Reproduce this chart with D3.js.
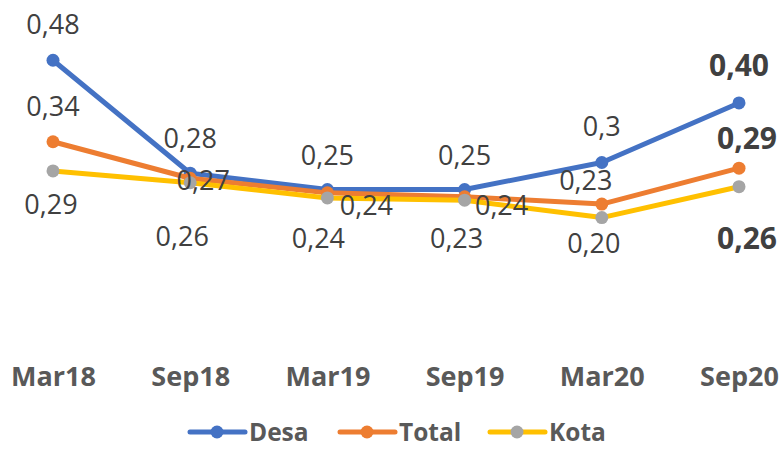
<!DOCTYPE html>
<html><head><meta charset="utf-8">
<script src="https://cdn.jsdelivr.net/npm/d3@7"></script>
<style>html,body{margin:0;padding:0;background:#fff;}svg{display:block;}</style>
</head><body>
<svg id="chart" width="784" height="449"></svg>
<script>
// ---- data ----
const categories = ["Mar18", "Sep18", "Mar19", "Sep19", "Mar20", "Sep20"];
const seriesNames = ["Desa", "Total", "Kota"];
const desaValues  = [0.480, 0.279, 0.250, 0.250, 0.298, 0.404];
const totalValues = [0.335, 0.270, 0.244, 0.237, 0.224, 0.288];
const kotaValues  = [0.283, 0.262, 0.235, 0.231, 0.200, 0.255];
const desaLabels  = ["0,48", "0,28", "0,25", "0,25", "0,3", "0,40"];
const totalLabels = ["0,34", "0,27", "0,24", "0,24", "0,23", "0,29"];
const kotaLabels  = ["0,29", "0,26", "0,24", "0,23", "0,20", "0,26"];

// ---- styling / layout (not data) ----
const lineColors   = {Desa: "#4472C4", Total: "#ED7D31", Kota: "#FFC000"};
const markerColors = {Desa: "#4472C4", Total: "#ED7D31", Kota: "#A5A5A5"};
const labelOffsets = {
  Desa:  [[0,-36],[0,-35],[0,-34],[0,-34],[0,-36],[0,-38]],
  Total: [[0,-35],[13,2],[39,12],[37,8],[-16,-24],[8,-30]],
  Kota:  [[-2,33],[-8,54],[-9,40],[-8,38],[-8,26],[8,52]]
};
const boldLast = true;

const series = [
  {name: "Desa", values: desaValues, labels: desaLabels},
  {name: "Total", values: totalValues, labels: totalLabels},
  {name: "Kota", values: kotaValues, labels: kotaLabels}
];

const svg = d3.select("#chart");
const font = "'Open Sans', 'Noto Sans', sans-serif";

const x = d3.scalePoint().domain(categories).range([53, 739]);
const y = d3.scaleLinear().domain([0, 0.5]).range([330, 49]);

// category axis (no line, no ticks)
const xAxis = svg.append("g").attr("transform", "translate(0,376)")
  .call(d3.axisBottom(x).tickSize(0).tickPadding(0));
xAxis.select(".domain").remove();
xAxis.selectAll("text")
  .attr("dy", "0.36em").attr("y", 0)
  .attr("font-family", font).attr("font-size", 27).attr("font-weight", "bold")
  .attr("fill", "#595959");

const line = d3.line().x((d, i) => x(categories[i])).y(d => y(d));

series.forEach(s => {
  const g = svg.append("g");
  g.append("path").datum(s.values)
    .attr("d", line).attr("fill", "none")
    .attr("stroke", lineColors[s.name]).attr("stroke-width", 5)
    .attr("stroke-linejoin", "round").attr("stroke-linecap", "round");
  g.selectAll("circle").data(s.values).join("circle")
    .attr("cx", (d, i) => x(categories[i])).attr("cy", d => y(d))
    .attr("r", 6.5).attr("fill", markerColors[s.name]);
});

// data labels
series.forEach(s => {
  svg.append("g").selectAll("text").data(s.values).join("text")
    .attr("x", (d, i) => x(categories[i]) + labelOffsets[s.name][i][0])
    .attr("y", (d, i) => y(d) + labelOffsets[s.name][i][1])
    .attr("dy", "0.36em")
    .attr("text-anchor", "middle")
    .attr("font-family", font)
    .attr("font-size", (d, i) => (boldLast && i === categories.length - 1) ? 30 : 27)
    .attr("font-weight", (d, i) => (boldLast && i === categories.length - 1) ? "bold" : "normal")
    .attr("fill", "#404040")
    .text((d, i) => s.labels[i]);
});

// legend
const legendX = [190, 340, 490];
const legend = svg.append("g").attr("transform", "translate(0,432)");
seriesNames.forEach((name, i) => {
  const lg = legend.append("g").attr("transform", `translate(${legendX[i]},0)`);
  lg.append("line").attr("x1", 0).attr("x2", 55).attr("y1", 0).attr("y2", 0)
    .attr("stroke", lineColors[name]).attr("stroke-width", 5).attr("stroke-linecap", "round");
  lg.append("circle").attr("cx", 27).attr("cy", 0).attr("r", 6.5).attr("fill", markerColors[name]);
  lg.append("text").attr("x", 59).attr("y", 0).attr("dy", "0.36em")
    .attr("font-family", font).attr("font-size", 24.5).attr("font-weight", "bold")
    .attr("fill", "#595959").text(name);
});
</script>
</body></html>
